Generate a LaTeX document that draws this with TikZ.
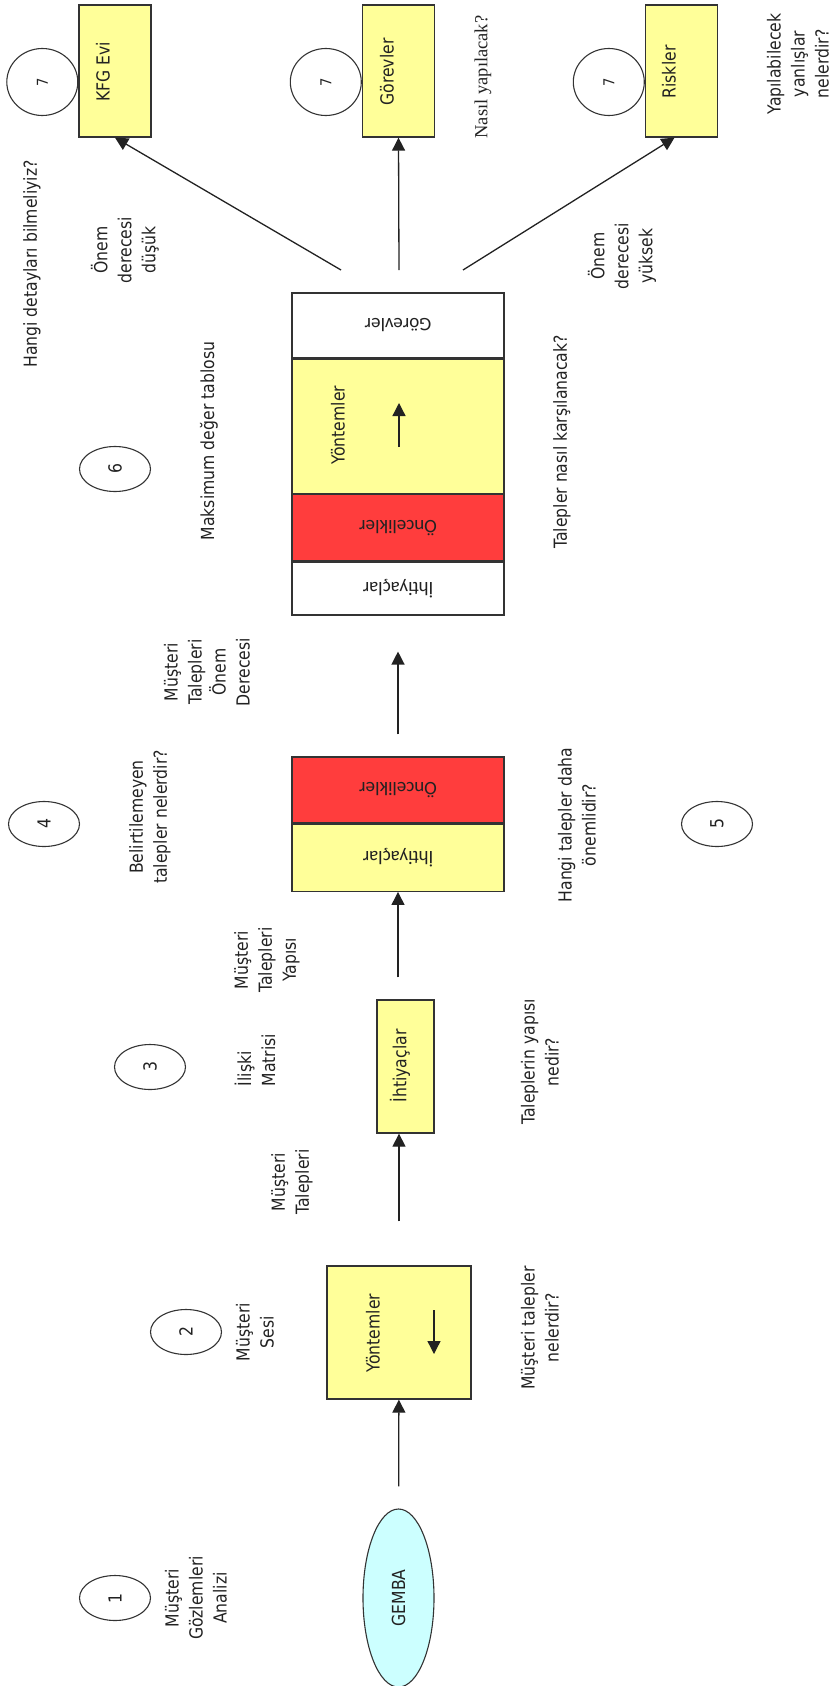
\documentclass[tikz,border=0pt]{standalone}
\usepackage{fontspec}
\setmainfont{DejaVu Sans}
\newfontfamily\rotfont[FakeStretch=0.87]{DejaVu Sans}
\newfontfamily\cellfont{Carlito}
\newfontfamily\serfont{Liberation Serif}
\definecolor{pale}{HTML}{FFFF99}
\definecolor{hot}{HTML}{FF3D3D}
\definecolor{sky}{HTML}{CCFFFF}
\definecolor{edge}{HTML}{333333}
\definecolor{ink}{HTML}{222222}
\usetikzlibrary{arrows.meta,positioning,shapes.geometric}

\begin{document}
\begin{tikzpicture}[
 x=1pt,y=-1pt,
 box/.style={draw=edge,line width=1.3pt,fill=pale,inner sep=0pt,text=ink},
 cell/.style={box,minimum width=212pt,font=\cellfont\fontsize{19}{22}\selectfont},
 num/.style={draw=edge,line width=1.1pt,ellipse,minimum width=71pt,minimum height=45pt,inner sep=0pt,text=ink,font=\rotfont\fontsize{18}{22}\selectfont},
 seven/.style={num,minimum height=67pt,font=\rotfont\fontsize{15}{18}\selectfont},
 txt/.style={rotate=90,align=center,inner sep=0pt,text=ink,font=\rotfont\fontsize{18}{24}\selectfont},
 arr/.style={-{Triangle[length=13pt,width=13pt]},draw=ink,line width=1.3pt}]
\useasboundingbox (0,0) rectangle (828,1686);
% step 1
\node[draw=edge,line width=1.1pt,fill=sky,ellipse,minimum width=71pt,minimum height=178pt,inner sep=0pt,text=ink,font=\rotfont\fontsize{18}{22}\selectfont] (gemba) at (398.5,1598) {\rotatebox{90}{GEMBA}};
\node[num] (n1) at (115,1598) {\rotatebox{90}{1}};
\node[txt] (gozlem) at (196,1598) {Müşteri\\Gözlemleri\\Analizi};
% step 2
\node[box,minimum width=144pt,minimum height=133pt] (ybox) at (399,1332.5) {};
\node[txt] (ytext) at (373,1333) {Yöntemler};
\coordinate (ydown) at (434,1310);
\coordinate (ydowntip) at (434,1354);
\node[num] (n2) at (186,1332) {\rotatebox{90}{2}};
\node[txt] (ses) at (255,1332) {Müşteri\\Sesi};
\node[txt] (q2) at (540,1328) {Müşteri talepler\\nelerdir?};
\node[txt] (talep) at (292,1182) {Müşteri\\Talepleri};
% step 3
\node[box,minimum width=57pt,minimum height=133pt] (need) at (405.5,1066.5) {};
\node[txt] (needtext) at (400,1066) {İhtiyaçlar};
\node[num] (n3) at (150,1067) {\rotatebox{90}{3}};
\node[txt,align=left] (matris) at (255,1060) {İlişki\\Matrisi};
\node[txt] (yapi) at (267,960) {Müşteri\\Talepleri\\Yapısı};
\node[txt] (q3) at (540,1062) {Taleplerin yapısı\\nedir?};
% steps 4 and 5
\node[cell,fill=hot,minimum height=66pt] (onc) at (398,790) {\rotatebox{180}{Öncelikler}};
\node[cell,minimum height=67pt,below=0pt of onc] (iht) {\rotatebox{180}{İhtiyaçlar}};
\node[num] (n4) at (44,824) {\rotatebox{90}{4}};
\node[txt] (q4) at (150,817) {Belirtilemeyen\\talepler nelerdir?};
\node[num] (n5) at (717,824) {\rotatebox{90}{5}};
\node[txt] (q5) at (577,825) {Hangi talepler daha\\önemlidir?};
\node[txt] (onem) at (207,672) {Müşteri\\Talepleri\\Önem\\Derecesi};
% step 6: the table
\node[cell,fill=white,minimum height=65pt] (tgor) at (398,325.5) {\rotatebox{180}{Görevler}};
\node[cell,minimum height=134pt,below=0pt of tgor] (tyon) {};
\node[cell,fill=hot,minimum height=66pt,below=0pt of tyon] (tonc) {\rotatebox{180}{Öncelikler}};
\node[cell,fill=white,minimum height=53pt,below=0pt of tonc] (tiht) {\rotatebox{180}{İhtiyaçlar}};
\node[txt] (tyontext) at (338,425) {Yöntemler};
\coordinate (tup) at (399,447);
\coordinate (tuptip) at (399,403);
\node[num] (n6) at (115,469) {\rotatebox{90}{6}};
\node[txt] (tablo) at (209,441) {Maksimum değer tablosu};
\node[txt] (q6) at (562,442) {Talepler nasıl karşılanacak?};
% step 7
\node[box,minimum width=72pt,minimum height=132pt] (kfg) at (115,71) {};
\node[box,minimum width=72pt,minimum height=132pt] (gbox) at (398.5,71) {};
\node[box,minimum width=72pt,minimum height=132pt] (risk) at (681.5,71) {};
\node[txt] (kfgtext) at (103,72) {KFG Evi};
\node[txt] (gtext) at (387,72) {Görevler};
\node[txt] (risktext) at (669,72) {Riskler};
\node[seven,left=0pt of kfg,yshift=-11pt] (s1) {\rotatebox{90}{7}};
\node[seven,left=0pt of gbox,yshift=-11pt] (s2) {\rotatebox{90}{7}};
\node[seven,left=0pt of risk,yshift=-11pt] (s3) {\rotatebox{90}{7}};
\node[txt] (q7a) at (32,264) {Hangi detayları bilmeliyiz?};
\node[txt] (dusuk) at (125,250) {Önem\\derecesi\\düşük};
\node[txt,font=\serfont\fontsize{18.5}{22}\selectfont] (q7b) at (483,77) {Nasıl yapılacak?};
\node[txt] (yuksek) at (622,256) {Önem\\derecesi\\yüksek};
\node[txt] (q7c) at (798,64) {Yapılabilecek\\yanlışlar\\nelerdir?};
\coordinate (fanl) at (341,270);
\coordinate (fanm) at (399,270);
\coordinate (fanr) at (463,270);
% connectors
\draw[arr,shorten <=22pt] (gemba) -- (ybox);
\draw[arr,shorten <=44pt] (ybox.north) -- (need.south -| ybox.north);
\draw[arr,shorten <=22pt] (need.north -| iht.south) -- (iht.south);
\draw[arr,shorten <=22pt,shorten >=36pt] (onc) -- (tiht);
\foreach \a/\b in {ydown/ydowntip,tup/tuptip,fanl/kfg.south,fanm/gbox.south}
  \draw[arr] (\a) -- (\b);
\draw[arr] (fanr) -- ([xshift=-7pt]risk.south);
\end{tikzpicture}
\end{document}
